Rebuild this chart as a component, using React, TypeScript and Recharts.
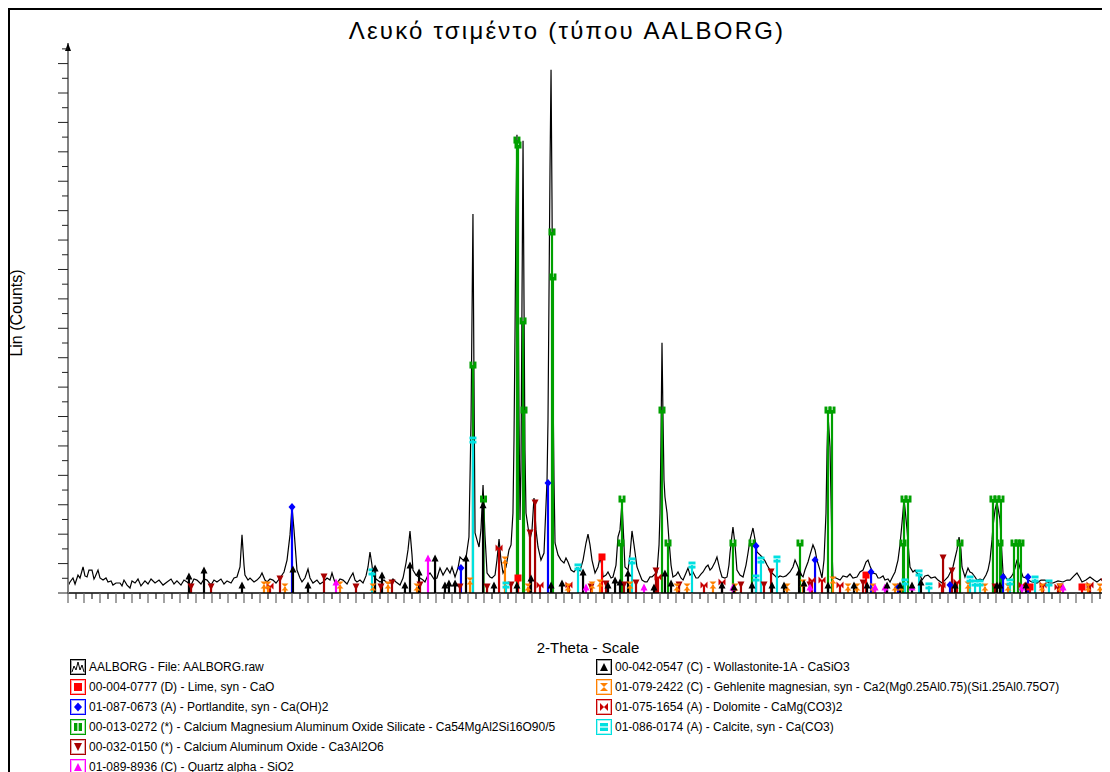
import React from 'react';
import { ComposedChart, Line, Scatter, XAxis, YAxis, ReferenceLine, ReferenceDot, Legend } from 'recharts';

const FONT = '"Liberation Sans", Arial, Helvetica, sans-serif';
const TITLE = 'Λευκό τσιμέντο (τύπου AALBORG)';
const X_LABEL = '2-Theta - Scale';
const Y_LABEL = 'Lin (Counts)';

// measured scan: [2-theta, counts]
const scan: [number, number][] = [
  [4.0,48],[4.125,75],[4.31,102],[4.44,61],[4.625,122],[4.75,102],[4.94,177],[5.06,116],[5.19,109],[5.31,156],[5.5,156],[5.625,95],[5.69,109],[5.875,156],[6.0,102],[6.19,88],[6.375,102],[6.5,75],[6.69,82],[6.81,54],[7.0,68],[7.25,68],[7.375,48],[7.5,88],[7.69,54],[7.875,34],[8.0,82],[8.19,68],[8.375,95],[8.56,48],[8.81,82],[9.0,61],[9.19,95],[9.44,68],[9.69,88],[9.94,54],[10.19,75],[10.44,95],[10.625,61],[10.81,82],[11.06,54],[11.25,88],[11.44,75],[11.69,54],[11.875,95],[12.06,88],[12.31,61],[12.5,95],[12.69,88],[12.94,54],[13.125,88],[13.31,75],[13.56,95],[13.75,61],[13.94,82],[14.19,68],[14.375,102],[14.56,109],[14.75,177],[14.875,395],[15.0,190],[15.06,122],[15.25,88],[15.375,102],[15.625,75],[15.81,88],[16.0,109],[16.125,136],[16.31,88],[16.44,75],[16.625,95],[16.81,88],[17.0,68],[17.25,102],[17.5,143],[17.69,224],[17.875,395],[18.0,585],[18.125,429],[18.31,156],[18.5,102],[18.625,75],[18.81,102],[19.0,163],[19.125,102],[19.31,68],[19.56,88],[19.75,61],[19.94,75],[20.19,102],[20.375,88],[20.5,136],[20.69,68],[20.81,68],[21.0,95],[21.19,88],[21.44,61],[21.625,102],[21.81,136],[21.94,88],[22.06,75],[22.25,88],[22.44,68],[22.625,116],[22.75,177],[22.875,279],[23.0,190],[23.06,122],[23.25,95],[23.5,75],[23.75,88],[23.94,68],[24.125,68],[24.31,95],[24.5,75],[24.75,54],[24.94,102],[25.125,204],[25.25,293],[25.375,422],[25.5,259],[25.56,156],[25.75,122],[26.0,102],[26.19,88],[26.31,75],[26.5,122],[26.625,136],[26.875,95],[27.06,102],[27.25,170],[27.44,122],[27.69,170],[27.875,136],[28.0,177],[28.19,109],[28.375,170],[28.5,245],[28.69,224],[28.875,238],[29.06,381],[29.19,1177],[29.31,2578],[29.375,1449],[29.44,408],[29.56,361],[29.69,313],[29.81,429],[29.94,735],[30.06,395],[30.19,136],[30.375,109],[30.5,102],[30.69,122],[30.81,224],[30.94,367],[31.06,224],[31.19,136],[31.375,177],[31.56,293],[31.69,327],[31.81,544],[31.875,1041],[31.94,1789],[32.0,2606],[32.06,3116],[32.125,2333],[32.19,1177],[32.25,497],[32.31,837],[32.375,1993],[32.44,3075],[32.5,1993],[32.56,973],[32.625,544],[32.75,449],[32.875,361],[33.0,429],[33.125,646],[33.25,429],[33.375,313],[33.56,224],[33.75,272],[33.81,429],[33.94,769],[34.0,1177],[34.06,1993],[34.125,2878],[34.19,3558],[34.25,2674],[34.31,1449],[34.375,769],[34.44,340],[34.625,259],[34.81,224],[35.0,204],[35.125,238],[35.25,211],[35.44,156],[35.625,143],[35.81,170],[36.0,150],[36.19,224],[36.375,340],[36.5,401],[36.625,327],[36.75,224],[36.94,136],[37.125,177],[37.25,238],[37.375,190],[37.44,109],[37.625,122],[37.75,143],[37.94,102],[38.06,109],[38.25,190],[38.375,381],[38.5,429],[38.625,619],[38.75,327],[38.81,177],[39.0,156],[39.125,259],[39.25,422],[39.375,327],[39.56,177],[39.75,122],[39.875,88],[40.06,75],[40.19,75],[40.375,109],[40.5,109],[40.69,129],[40.81,136],[40.94,327],[41.0,544],[41.06,1041],[41.125,1701],[41.19,1177],[41.25,769],[41.31,653],[41.44,544],[41.56,361],[41.69,190],[41.81,109],[42.0,122],[42.125,143],[42.31,102],[42.44,88],[42.625,136],[42.75,170],[42.875,122],[43.06,143],[43.25,102],[43.375,102],[43.56,129],[43.69,143],[43.875,177],[44.0,190],[44.125,156],[44.25,170],[44.44,211],[44.56,245],[44.75,156],[44.875,109],[45.06,102],[45.19,109],[45.31,190],[45.375,272],[45.5,395],[45.56,449],[45.69,327],[45.81,156],[46.0,122],[46.19,109],[46.375,190],[46.5,272],[46.625,361],[46.75,415],[46.81,442],[46.94,361],[47.06,279],[47.25,259],[47.375,245],[47.56,218],[47.69,190],[47.875,156],[48.0,136],[48.19,116],[48.31,102],[48.5,116],[48.69,109],[48.875,116],[49.125,143],[49.31,177],[49.44,224],[49.625,177],[49.75,129],[49.94,109],[50.06,156],[50.25,211],[50.375,259],[50.56,327],[50.69,293],[50.81,224],[51.0,156],[51.125,102],[51.25,224],[51.375,544],[51.44,973],[51.5,1211],[51.56,1109],[51.625,993],[51.69,633],[51.75,293],[51.81,109],[52.0,102],[52.25,88],[52.44,116],[52.69,109],[52.875,129],[53.06,102],[53.31,109],[53.5,143],[53.69,156],[53.875,211],[54.0,224],[54.125,184],[54.31,136],[54.5,129],[54.625,102],[54.75,102],[54.94,116],[55.06,88],[55.25,95],[55.375,75],[55.56,116],[55.69,143],[55.875,224],[56.0,327],[56.125,476],[56.25,633],[56.31,578],[56.44,429],[56.56,259],[56.625,177],[56.81,143],[56.94,156],[57.06,136],[57.25,122],[57.375,88],[57.56,116],[57.75,122],[57.94,102],[58.19,109],[58.375,88],[58.625,68],[58.81,88],[59.0,109],[59.125,136],[59.31,177],[59.44,238],[59.56,293],[59.69,381],[59.81,293],[59.875,177],[60.06,109],[60.25,170],[60.375,143],[60.5,136],[60.69,109],[60.81,88],[61.0,95],[61.19,88],[61.375,122],[61.5,156],[61.625,224],[61.75,361],[61.81,449],[61.94,565],[62.06,619],[62.125,578],[62.25,497],[62.375,259],[62.44,136],[62.625,102],[62.75,88],[62.94,109],[63.06,129],[63.19,170],[63.31,224],[63.375,224],[63.5,170],[63.69,109],[63.875,102],[64.0,88],[64.25,75],[64.56,68],[64.81,88],[65.06,88],[65.31,68],[65.56,68],[65.875,82],[66.19,75],[66.44,88],[66.625,88],[66.875,116],[67.06,136],[67.25,102],[67.375,75],[67.625,88],[67.875,109],[68.125,88],[68.31,75],[68.56,95],[68.81,68],[69.0,75],
];

// reference sticks per phase: [2-theta, counts]
const limeSticks: [number, number][] = [[32.125,102],[37.375,245],[53.875,122],[64.125,41],[67.375,41]];
const portlanditeSticks: [number, number][] = [[18.0,585],[28.56,170],[34.0,748],[47.0,320],[50.69,224],[54.19,143],[55.875,41],[59.125,54],[62.44,109],[64.0,109]];
const cmasSticks: [number, number][] = [[29.31,1550],[29.97,639],[32.06,3080],[32.125,3046],[32.44,1850],[32.5,1244],[34.25,2455],[34.31,2149],[38.56,340],[38.625,639],[41.125,1244],[41.5,340],[45.56,340],[46.75,340],[49.75,340],[51.5,1244],[51.75,1244],[56.19,340],[56.25,639],[56.5,639],[59.75,340],[61.81,639],[62.06,639],[62.31,639],[62.25,340],[63.125,340],[63.375,340],[63.56,340]];
const c3aSticks: [number, number][] = [[11.69,41],[12.94,41],[17.25,95],[20.0,109],[22.0,41],[23.56,41],[24.25,68],[26.0,54],[28.5,41],[30.19,41],[31.69,54],[32.875,408],[33.19,612],[36.69,41],[37.625,61],[38.75,54],[39.5,68],[40.75,150],[42.19,54],[46.06,54],[47.5,54],[47.94,143],[50.375,54],[53.69,68],[58.69,238],[59.25,150],[61.94,41],[66.0,41],[68.75,75]];
const quartzSticks: [number, number][] = [[20.75,75],[26.5,238],[36.375,41],[40.0,41],[45.56,41],[50.375,41],[54.44,41],[55.06,41],[56.75,41],[63.625,41],[66.19,41],[68.81,75]];
const wollastoniteSticks: [number, number][] = [[11.56,116],[12.5,156],[14.875,54],[18.06,163],[19.0,54],[23.19,170],[23.625,122],[25.06,54],[25.375,190],[25.94,143],[26.94,238],[27.56,54],[27.81,68],[28.19,68],[28.875,238],[29.94,600],[30.625,54],[32.06,54],[32.94,102],[34.19,54],[34.875,68],[36.19,143],[37.75,54],[38.19,88],[38.5,75],[39.0,136],[40.625,41],[41.31,136],[41.69,68],[44.875,54],[45.625,41],[46.75,54],[48.0,54],[48.75,54],[49.69,143],[50.0,68],[51.5,54],[53.125,54],[53.94,54],[55.19,54],[56.0,54],[56.75,54],[57.31,75],[59.44,54],[62.06,54],[62.25,54],[63.875,54]];
const gehleniteSticks: [number, number][] = [[16.25,54],[16.5,54],[17.56,41],[21.0,54],[23.06,41],[24.0,54],[25.81,41],[29.125,82],[31.31,224],[32.75,41],[35.25,41],[36.75,54],[37.25,68],[39.125,54],[42.06,41],[42.69,41],[44.31,54],[45.69,41],[48.94,41],[49.94,68],[51.81,88],[52.75,41],[53.31,41],[54.31,41],[55.69,41],[56.06,41],[60.25,54],[61.31,41],[62.75,41],[64.875,41],[66.0,41],[67.75,41],[68.5,41]];
const dolomiteSticks: [number, number][] = [[16.625,48],[30.94,306],[33.5,54],[35.31,54],[40.875,109],[43.75,54],[44.875,75],[50.5,88],[51.125,88],[52.25,54],[58.625,54],[59.56,75],[63.625,54],[64.94,54],[65.875,41],[67.875,54]];
const calciteSticks: [number, number][] = [[23.0,143],[29.31,1040],[31.375,54],[35.875,177],[39.25,218],[43.0,190],[47.0,102],[47.31,224],[48.31,231],[56.31,75],[57.19,136],[57.81,48],[60.375,95],[60.69,68],[61.0,68],[62.875,75],[64.44,95],[65.31,68],[68.94,61]];

const scanLabel = 'AALBORG - File: AALBORG.raw';

type Kind = 'square' | 'diamond' | 'bars' | 'down' | 'up' | 'hourglass' | 'bowtie' | 'equal';
interface Phase { key: string; label: string; color: string; kind: Kind; sticks: [number, number][] }

const lime: Phase = { key: 'lime', label: '00-004-0777 (D) - Lime, syn - CaO', color: '#FF0000', kind: 'square', sticks: limeSticks };
const portlandite: Phase = { key: 'port', label: '01-087-0673 (A) - Portlandite, syn - Ca(OH)2', color: '#0000FF', kind: 'diamond', sticks: portlanditeSticks };
const cmas: Phase = { key: 'cmas', label: '00-013-0272 (*) - Calcium Magnesium Aluminum Oxide Silicate - Ca54MgAl2Si16O90/5', color: '#00A000', kind: 'bars', sticks: cmasSticks };
const c3a: Phase = { key: 'c3a', label: '00-032-0150 (*) - Calcium Aluminum Oxide - Ca3Al2O6', color: '#A80000', kind: 'down', sticks: c3aSticks };
const quartz: Phase = { key: 'qtz', label: '01-089-8936 (C) - Quartz alpha - SiO2', color: '#FF00FF', kind: 'up', sticks: quartzSticks };
const wollastonite: Phase = { key: 'wol', label: '00-042-0547 (C) - Wollastonite-1A - CaSiO3', color: '#000000', kind: 'up', sticks: wollastoniteSticks };
const gehlenite: Phase = { key: 'geh', label: '01-079-2422 (C) - Gehlenite magnesian, syn - Ca2(Mg0.25Al0.75)(Si1.25Al0.75O7)', color: '#FF8000', kind: 'hourglass', sticks: gehleniteSticks };
const dolomite: Phase = { key: 'dol', label: '01-075-1654 (A) - Dolomite - CaMg(CO3)2', color: '#C80000', kind: 'bowtie', sticks: dolomiteSticks };
const calcite: Phase = { key: 'cal', label: '01-086-0174 (A) - Calcite, syn - Ca(CO3)', color: '#00E0E0', kind: 'equal', sticks: calciteSticks };

const drawOrder: Phase[] = [cmas, lime, portlandite, c3a, dolomite, gehlenite, quartz, calcite, wollastonite];
const legendLeft: Phase[] = [lime, portlandite, cmas, c3a, quartz];
const legendRight: Phase[] = [wollastonite, gehlenite, dolomite, calcite];

const xTicks = Array.from({ length: 131 }, (_, i) => 4 + i * 0.5);
const yTicks = Array.from({ length: 38 }, (_, i) => i * 100);

function MarkerShape({ kind, color, cx, cy, r = 3.5 }: { kind: Kind; color: string; cx: number; cy: number; r?: number }) {
  if (cx == null || cy == null || isNaN(cx) || isNaN(cy)) return null;
  switch (kind) {
    case 'square':
      return <rect x={cx - r} y={cy - r} width={2 * r} height={2 * r} fill={color} />;
    case 'diamond':
      return <polygon points={`${cx},${cy - r - 0.5} ${cx + r},${cy} ${cx},${cy + r + 0.5} ${cx - r},${cy}`} fill={color} />;
    case 'bars':
      return (
        <g fill={color}>
          <rect x={cx - r} y={cy - r} width={r - 0.6} height={2 * r} />
          <rect x={cx + 0.6} y={cy - r} width={r - 0.6} height={2 * r} />
        </g>
      );
    case 'down':
      return <polygon points={`${cx - r},${cy - r} ${cx + r},${cy - r} ${cx},${cy + r}`} fill={color} />;
    case 'up':
      return <polygon points={`${cx - r},${cy + r} ${cx + r},${cy + r} ${cx},${cy - r}`} fill={color} />;
    case 'hourglass':
      return <polygon points={`${cx - r},${cy - r} ${cx + r},${cy - r} ${cx - r},${cy + r} ${cx + r},${cy + r}`} fill={color} />;
    case 'bowtie':
      return <polygon points={`${cx - r},${cy - r} ${cx + r},${cy + r} ${cx + r},${cy - r} ${cx - r},${cy + r}`} fill={color} />;
    case 'equal':
      return (
        <g fill={color}>
          <rect x={cx - r} y={cy - r} width={2 * r} height={r - 0.6} />
          <rect x={cx - r} y={cy + 0.6} width={2 * r} height={r - 0.6} />
        </g>
      );
    default:
      return null;
  }
}

const XTick = (p: any) => {
  const v = p.payload?.value;
  const long = Math.abs(v - Math.round(v)) < 1e-6;
  return <line x1={p.x} x2={p.x} y1={p.y} y2={p.y + (long ? 10 : 6)} stroke={long ? '#666' : '#222'} strokeWidth={1.2} />;
};

const YTick = (p: any) => {
  const v = p.payload?.value;
  const long = v % 200 === 0;
  return <line x1={p.x - (long ? 10 : 6)} x2={p.x} y1={p.y} y2={p.y} stroke="#222" strokeWidth={1} />;
};

const XLabel = (p: any) => {
  const vb = p.viewBox || {};
  return (
    <text x={vb.x + vb.width / 2} y={vb.y + 54} textAnchor="middle" dominantBaseline="central" fontSize={15} fontFamily={FONT} fill="#000">
      {X_LABEL}
    </text>
  );
};

const YLabel = (p: any) => {
  const vb = p.viewBox || {};
  const cx = vb.x + 8;
  const cy = vb.y + vb.height / 2 - 5;
  return (
    <text x={cx} y={cy} transform={`rotate(-90 ${cx} ${cy})`} textAnchor="middle" dominantBaseline="central" fontSize={16} fontFamily={FONT} fill="#000">
      {Y_LABEL}
    </text>
  );
};

function IconBox({ color, children }: { color: string; children: React.ReactNode }) {
  return (
    <svg width={16} height={16} style={{ flex: '0 0 auto' }}>
      <rect x={0.5} y={0.5} width={15} height={15} fill="#fff" stroke={color} strokeWidth={1} />
      <rect x={1.5} y={1.5} width={13} height={13} fill="none" stroke={color} strokeOpacity={0.35} strokeWidth={1} />
      {children}
    </svg>
  );
}

function LegendRow({ icon, text }: { icon: React.ReactNode; text: string }) {
  return (
    <div style={{ display: 'flex', alignItems: 'center', height: 20, whiteSpace: 'nowrap' }}>
      {icon}
      <span style={{ marginLeft: 3 }}>{text}</span>
    </div>
  );
}

const LegendBlock = () => (
  <div style={{ position: 'relative', width: 1040, height: 122, fontFamily: FONT, fontSize: 12, color: '#000' }}>
    <div style={{ position: 'absolute', left: 0, top: 0 }}>
      <LegendRow
        icon={
          <IconBox color="#000">
            <polyline points="2,13 4,7 6,11 8,3 10,11 12,6 14,13" fill="none" stroke="#000" strokeWidth={1} />
          </IconBox>
        }
        text={scanLabel}
      />
      {legendLeft.map((p) => (
        <LegendRow key={p.key} icon={<IconBox color={p.color}><MarkerShape kind={p.kind} color={p.color} cx={8} cy={8} r={4} /></IconBox>} text={p.label} />
      ))}
    </div>
    <div style={{ position: 'absolute', left: 526, top: 0 }}>
      {legendRight.map((p) => (
        <LegendRow key={p.key} icon={<IconBox color={p.color}><MarkerShape kind={p.kind} color={p.color} cx={8} cy={8} r={4} /></IconBox>} text={p.label} />
      ))}
    </div>
  </div>
);

const W = 1102;
const H = 764;

export default function App() {
  const scanData = scan.map(([t, c]) => ({ t, c }));
  return (
    <div style={{ position: 'relative', width: W, height: H, background: '#fff' }}>
      <div
        style={{
          position: 'absolute', left: 0, top: 0, width: W, height: H,
          borderLeft: '2px solid #000', borderTop: '2px solid #000', boxSizing: 'border-box', pointerEvents: 'none',
        }}
      />
      <div style={{ position: 'absolute', left: 8, top: 9, width: W, textAlign: 'center', fontFamily: FONT, fontSize: 24, letterSpacing: 2.2, color: '#000' }}>
        {TITLE}
      </div>
      <ComposedChart width={W} height={H} margin={{ top: 35, right: 2, bottom: 149, left: 0 }}>
        <XAxis
          dataKey="t" type="number" domain={[4, 69]} ticks={xTicks} interval={0}
          tick={XTick} tickLine={false} tickSize={0} tickMargin={0}
          axisLine={{ stroke: '#000', strokeWidth: 1.5 }} height={30} allowDataOverflow label={XLabel}
        />
        <YAxis
          dataKey="c" type="number" domain={[0, 3740]} ticks={yTicks} interval={0}
          tick={YTick} tickLine={false} tickSize={0} tickMargin={0}
          axisLine={{ stroke: '#808080', strokeWidth: 2 }} width={60} allowDataOverflow label={YLabel}
        />
        <Line data={scanData} dataKey="c" type="linear" stroke="#000" strokeWidth={1.2} dot={false} activeDot={false} isAnimationActive={false} />
        {drawOrder.flatMap((p) =>
          p.sticks.map(([t, c], i) => (
            <ReferenceLine key={`${p.key}-${i}`} segment={[{ x: t, y: 0 }, { x: t, y: c }]} stroke={p.color} strokeWidth={2.2} ifOverflow="visible" />
          ))
        )}
        {drawOrder.map((p) => (
          <Scatter
            key={p.key}
            data={p.sticks.map(([t, c]) => ({ t, c }))}
            dataKey="c"
            isAnimationActive={false}
            shape={(s: any) => <MarkerShape kind={p.kind} color={p.color} cx={s.cx} cy={s.cy} />}
          />
        ))}
        <ReferenceDot
          x={4} y={3740} r={0} ifOverflow="visible"
          shape={(s: any) => <polygon points={`${s.cx},${s.cy} ${s.cx - 3},${s.cy + 8} ${s.cx + 3},${s.cy + 8}`} fill="#000" />}
        />
        <Legend
          layout="vertical" align="center" verticalAlign="middle"
          wrapperStyle={{ left: 62, top: 649, width: 1040 }}
          content={() => <LegendBlock />}
        />
      </ComposedChart>
    </div>
  );
}
